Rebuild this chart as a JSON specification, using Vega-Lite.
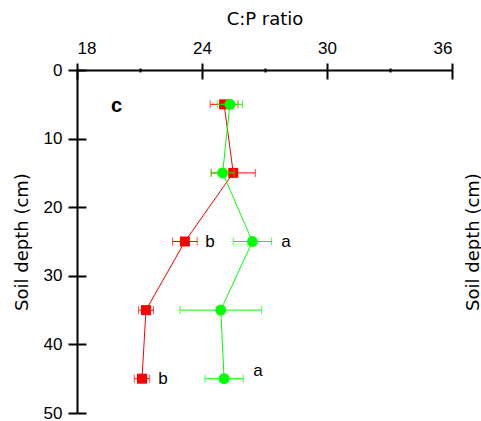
{
  "$schema": "https://vega.github.io/schema/vega-lite/v6.json",
  "width": 375,
  "height": 343,
  "autosize": {"type": "none"},
  "padding": {"left": 77, "top": 70, "right": 29, "bottom": 8},
  "config": {
    "font": "Liberation Sans",
    "view": {"stroke": null},
    "axis": {"grid": false, "domainColor": "black", "tickColor": "black", "labelColor": "black", "titleColor": "black", "titleFontWeight": "normal", "titleFont": "DejaVu Sans", "labelFont": "Liberation Sans"}
  },
  "datasets": {
    "pts": [
      {"trt": "red", "depth": 5, "ratio": 25.06, "lo": 24.39, "hi": 25.73},
      {"trt": "red", "depth": 15, "ratio": 25.5, "lo": 24.44, "hi": 26.56},
      {"trt": "red", "depth": 25, "ratio": 23.18, "lo": 22.59, "hi": 23.77},
      {"trt": "red", "depth": 35, "ratio": 21.31, "lo": 20.95, "hi": 21.67},
      {"trt": "red", "depth": 45, "ratio": 21.12, "lo": 20.75, "hi": 21.49},
      {"trt": "green", "depth": 5, "ratio": 25.34, "lo": 24.74, "hi": 25.94},
      {"trt": "green", "depth": 15, "ratio": 24.99, "lo": 24.44, "hi": 25.54},
      {"trt": "green", "depth": 25, "ratio": 26.42, "lo": 25.5, "hi": 27.34},
      {"trt": "green", "depth": 35, "ratio": 24.9, "lo": 22.94, "hi": 26.86},
      {"trt": "green", "depth": 45, "ratio": 25.06, "lo": 24.14, "hi": 25.98}
    ],
    "labels": [
      {"x": 24.38, "y": 25, "text": "b"},
      {"x": 28.03, "y": 25, "text": "a"},
      {"x": 22.13, "y": 45, "text": "b"},
      {"x": 26.69, "y": 43.9, "text": "a"}
    ],
    "panel": [
      {"x": 19.9, "y": 5.2, "text": "c"}
    ]
  },
  "resolve": {"axis": {"x": "independent", "y": "independent"}},
  "layer": [
    {
      "data": {"name": "pts"},
      "transform": [{"filter": "datum.trt === 'red'"}],
      "mark": {"type": "line", "color": "#FF0000", "strokeWidth": 1},
      "encoding": {
        "x": {"field": "ratio", "type": "quantitative", "scale": {"domain": [18, 36], "nice": false, "zero": false},
          "axis": {"orient": "top", "values": [18, 24, 30, 36], "tickSize": 7, "tickWidth": 2, "domainWidth": 2, "labelFontSize": 17, "labelPadding": 6, "title": "C:P ratio", "titleFontSize": 18, "titlePadding": 11}},
        "y": {"field": "depth", "type": "quantitative", "scale": {"domain": [0, 50], "reverse": true, "nice": false, "zero": false},
          "axis": {"orient": "left", "values": [0, 10, 20, 30, 40, 50], "tickSize": 9, "tickWidth": 2, "domainWidth": 2, "labelFontSize": 17, "labelPadding": 6, "title": "Soil depth (cm)", "titleFontSize": 18, "titlePadding": 12}},
        "order": {"field": "depth", "type": "quantitative"}
      }
    },
    {
      "data": {"name": "pts"},
      "transform": [{"filter": "datum.trt === 'red'"}],
      "mark": {"type": "rule", "color": "#FF0000", "strokeWidth": 1},
      "encoding": {
        "x": {"field": "lo", "type": "quantitative", "axis": {"orient": "top", "values": [18, 24, 30, 36], "tickSize": -9, "tickWidth": 2, "domain": false, "labels": false, "title": null}},
        "x2": {"field": "hi"},
        "y": {"field": "depth", "type": "quantitative", "axis": {"orient": "left", "values": [0, 10, 20, 30, 40, 50], "tickSize": -9, "tickWidth": 2, "domain": false, "labels": false, "title": null}}
      }
    },
    {
      "data": {"name": "pts"},
      "transform": [{"filter": "datum.trt === 'red'"}],
      "mark": {"type": "tick", "orient": "vertical", "color": "#FF0000", "size": 8, "thickness": 1},
      "encoding": {
        "x": {"field": "lo", "type": "quantitative", "axis": {"orient": "top", "values": [21, 27, 33], "tickSize": 2, "tickWidth": 2, "domain": false, "labels": false, "title": null}},
        "y": {"field": "depth", "type": "quantitative", "axis": null}
      }
    },
    {
      "data": {"name": "pts"},
      "transform": [{"filter": "datum.trt === 'red'"}],
      "mark": {"type": "tick", "orient": "vertical", "color": "#FF0000", "size": 8, "thickness": 1},
      "encoding": {
        "x": {"field": "hi", "type": "quantitative", "axis": {"orient": "top", "values": [21, 27, 33], "tickSize": -2, "tickWidth": 2, "domain": false, "labels": false, "title": null}},
        "y": {"field": "depth", "type": "quantitative", "axis": null}
      }
    },
    {
      "data": {"name": "pts"},
      "transform": [{"filter": "datum.trt === 'red'"}],
      "mark": {"type": "point", "shape": "square", "filled": true, "opacity": 1, "color": "#FF0000", "size": 100},
      "encoding": {
        "x": {"field": "ratio", "type": "quantitative", "axis": null},
        "y": {"field": "depth", "type": "quantitative", "axis": {"orient": "right", "labels": false, "ticks": false, "domain": false, "title": "Soil depth (cm)", "titleFontSize": 18, "titleAngle": 270, "titleBaseline": "top", "titlePadding": 12}}
      }
    },
    {
      "data": {"name": "pts"},
      "transform": [{"filter": "datum.trt === 'green'"}],
      "mark": {"type": "line", "color": "#00FF00", "strokeWidth": 1},
      "encoding": {
        "x": {"field": "ratio", "type": "quantitative", "axis": null},
        "y": {"field": "depth", "type": "quantitative", "axis": null},
        "order": {"field": "depth", "type": "quantitative"}
      }
    },
    {
      "data": {"name": "pts"},
      "transform": [{"filter": "datum.trt === 'green'"}],
      "mark": {"type": "rule", "color": "#00FF00", "strokeWidth": 1},
      "encoding": {
        "x": {"field": "lo", "type": "quantitative", "axis": null},
        "x2": {"field": "hi"},
        "y": {"field": "depth", "type": "quantitative", "axis": null}
      }
    },
    {
      "data": {"name": "pts"},
      "transform": [{"filter": "datum.trt === 'green'"}],
      "mark": {"type": "tick", "orient": "vertical", "color": "#00FF00", "size": 8, "thickness": 1},
      "encoding": {
        "x": {"field": "lo", "type": "quantitative", "axis": null},
        "y": {"field": "depth", "type": "quantitative", "axis": null}
      }
    },
    {
      "data": {"name": "pts"},
      "transform": [{"filter": "datum.trt === 'green'"}],
      "mark": {"type": "tick", "orient": "vertical", "color": "#00FF00", "size": 8, "thickness": 1},
      "encoding": {
        "x": {"field": "hi", "type": "quantitative", "axis": null},
        "y": {"field": "depth", "type": "quantitative", "axis": null}
      }
    },
    {
      "data": {"name": "pts"},
      "transform": [{"filter": "datum.trt === 'green'"}],
      "mark": {"type": "point", "shape": "circle", "filled": true, "opacity": 1, "color": "#00FF00", "size": 120},
      "encoding": {
        "x": {"field": "ratio", "type": "quantitative", "axis": null},
        "y": {"field": "depth", "type": "quantitative", "axis": null}
      }
    },
    {
      "data": {"name": "labels"},
      "mark": {"type": "text", "fontSize": 17, "color": "black", "align": "center", "baseline": "middle"},
      "encoding": {
        "x": {"field": "x", "type": "quantitative", "axis": null},
        "y": {"field": "y", "type": "quantitative", "axis": null},
        "text": {"field": "text"}
      }
    },
    {
      "data": {"name": "panel"},
      "mark": {"type": "text", "fontSize": 20, "fontWeight": "bold", "color": "black", "align": "center", "baseline": "middle"},
      "encoding": {
        "x": {"field": "x", "type": "quantitative", "axis": null},
        "y": {"field": "y", "type": "quantitative", "axis": null},
        "text": {"field": "text"}
      }
    }
  ]
}
